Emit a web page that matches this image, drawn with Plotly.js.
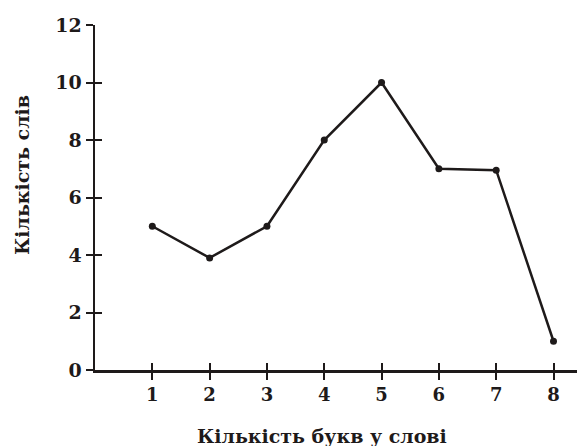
<!DOCTYPE html>
<html>
<head>
<meta charset="utf-8">
<script src="https://cdn.plot.ly/plotly-3.0.1.min.js"></script>
<style>html,body{margin:0;padding:0;background:#fff;}#chart{width:577px;height:446px;}</style>
</head>
<body>
<div id="chart"></div>
<script>
const letters = [1, 2, 3, 4, 5, 6, 7, 8];
const wordCounts = [5, 3.9, 5, 8, 10, 7, 6.95, 1];
const xTicks = [1, 2, 3, 4, 5, 6, 7, 8];
const yTicks = [0, 2, 4, 6, 8, 10, 12];
const xTitle = "Кількість букв у слові";
const yTitle = "Кількість слів";

const fontFam = "'DejaVu Serif', 'Liberation Serif', serif";
const ink = "#1e1a1a";

const trace = {
  x: letters, y: wordCounts, type: 'scatter', mode: 'lines+markers',
  line: {color: ink, width: 2.5},
  marker: {color: ink, size: 7},
  hoverinfo: 'skip', cliponaxis: false
};

const layout = {
  width: 577, height: 446,
  margin: {l: 95, r: 0, t: 25, b: 76},
  paper_bgcolor: '#fff', plot_bgcolor: '#fff',
  showlegend: false,
  font: {family: fontFam, color: ink},
  xaxis: {
    range: [0, 8.41], tickvals: xTicks, ticktext: xTicks.map(String),
    showgrid: false, zeroline: false, showline: true, linecolor: ink, linewidth: 2.5,
    ticks: 'outside', ticklen: 7, tickwidth: 2, tickcolor: ink,
    tickfont: {size: 18, family: fontFam, color: ink, weight: 'bold'},
    fixedrange: true
  },
  yaxis: {
    range: [0, 12], tickvals: yTicks, ticktext: yTicks.map(String),
    showgrid: false, zeroline: false, showline: true, linecolor: ink, linewidth: 2.5,
    ticks: 'outside', ticklen: 7, tickwidth: 2, tickcolor: ink,
    tickfont: {size: 19, family: fontFam, color: ink, weight: 'bold'},
    fixedrange: true
  },
  xaxis2: {
    overlaying: 'x', anchor: 'y', side: 'bottom', range: [0, 8.41], tickvals: xTicks,
    showticklabels: false, showgrid: false, zeroline: false, showline: false,
    ticks: 'inside', ticklen: 7, tickwidth: 2, tickcolor: ink, fixedrange: true
  },
  yaxis2: {
    overlaying: 'y', anchor: 'x', side: 'left', range: [0, 12], tickvals: yTicks,
    showticklabels: false, showgrid: false, zeroline: false, showline: false,
    ticks: 'inside', ticklen: 7, tickwidth: 2, tickcolor: ink, fixedrange: true
  },
  annotations: [
    {text: xTitle, xref: 'paper', yref: 'paper', x: (322 - 95) / 482, y: -(436 - 370) / 345,
     xanchor: 'center', yanchor: 'middle', showarrow: false,
     font: {size: 19, family: fontFam, color: ink, weight: 'bold'}},
    {text: yTitle, xref: 'paper', yref: 'paper', x: -(95 - 22) / 482, y: (370 - 175) / 345,
     xanchor: 'center', yanchor: 'middle', showarrow: false, textangle: -90,
     font: {size: 19, family: fontFam, color: ink, weight: 'bold'}}
  ]
};

const dummy = {x: [0], y: [0], xaxis: 'x2', yaxis: 'y2', type: 'scatter', mode: 'markers',
  marker: {opacity: 0}, hoverinfo: 'skip', showlegend: false};

Plotly.newPlot('chart', [dummy, trace], layout, {staticPlot: true, displayModeBar: false});
</script>
</body>
</html>
